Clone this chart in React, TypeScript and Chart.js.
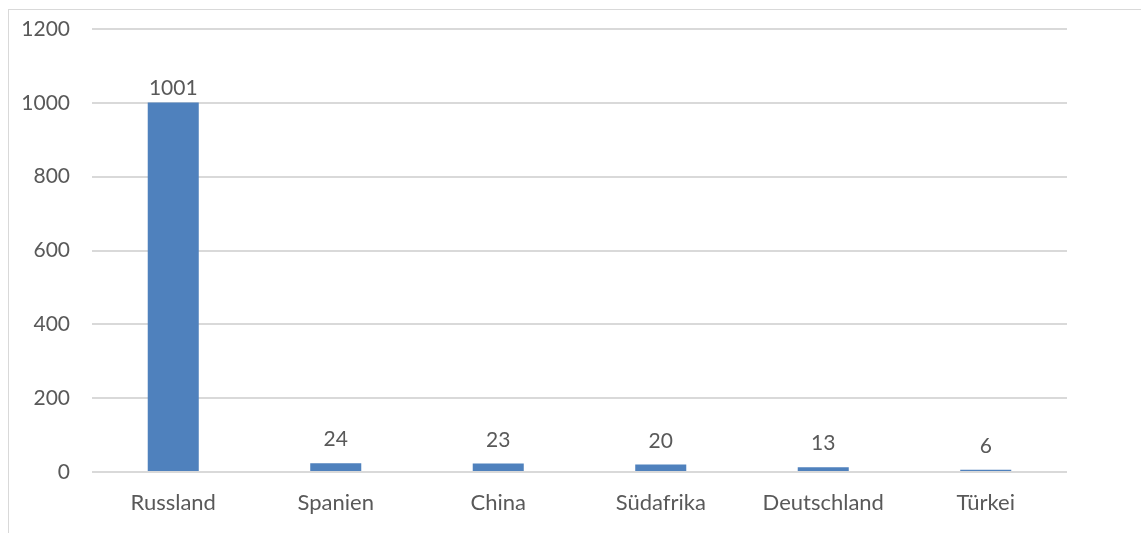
import React, { useEffect, useRef } from "react";
import { Chart, registerables } from "chart.js";

Chart.register(...registerables);

const categories = ["Russland", "Spanien", "China", "Südafrika", "Deutschland", "Türkei"];
const values = [1001, 24, 23, 20, 13, 6];
const yMax = 1200;
const yStep = 200;

const FONT = "Lato, 'Open Sans', sans-serif";
const TEXT = "#595959";

const labelPlugin = {
  id: "valueLabels",
  afterDatasetsDraw(chart: any) {
    const ctx = chart.ctx;
    const meta = chart.getDatasetMeta(0);
    const zeroY = chart.scales.y.getPixelForValue(0);
    ctx.save();
    ctx.font = `21px ${FONT}`;
    ctx.fillStyle = TEXT;
    ctx.textAlign = "center";
    ctx.textBaseline = "alphabetic";
    meta.data.forEach((bar: any, i: number) => {
      const tall = zeroY - bar.y > 100;
      const gap = tall ? 7 : 17;
      ctx.fillText(String(values[i]), bar.x, bar.y - gap);
    });
    ctx.restore();
  },
};

export default function App() {
  const ref = useRef<HTMLCanvasElement | null>(null);
  useEffect(() => {
    if (!ref.current) return;
    const chart = new Chart(ref.current, {
      type: "bar",
      data: {
        labels: categories,
        datasets: [
          {
            data: values,
            backgroundColor: "#4f81bd",
            borderWidth: 0,
            barPercentage: 0.314,
            categoryPercentage: 1,
          },
        ],
      },
      options: {
        animation: false,
        responsive: false,
        maintainAspectRatio: false,
        devicePixelRatio: 1,
        layout: { padding: { left: 0, right: 74, top: 29, bottom: 0 } },
        plugins: { legend: { display: false }, tooltip: { enabled: false } },
        scales: {
          x: {
            grid: { display: false, drawTicks: false },
            border: { display: false },
            ticks: { color: TEXT, font: { family: FONT, size: 22 }, padding: 18, maxRotation: 0 },
            afterFit: (s: any) => {
              s.height = 61;
              s.paddingLeft = 0;
              s.paddingRight = 0;
            },
          },
          y: {
            min: 0,
            max: yMax,
            ticks: {
              stepSize: yStep,
              color: TEXT,
              font: { family: FONT, size: 21 },
              padding: 22,
              callback: (v: any) => String(v),
            },
            grid: { color: "#d9d9d9", lineWidth: 2, drawTicks: false },
            border: { display: false },
            afterFit: (s: any) => {
              s.width = 92;
              s.paddingTop = 0;
              s.paddingBottom = 0;
            },
          },
        },
      },
      plugins: [labelPlugin],
    });
    return () => chart.destroy();
  }, []);
  return (
    <div style={{ position: "fixed", left: 0, top: 0, width: 1141, height: 533, overflow: "hidden", background: "#fff" }}>
      <div
        style={{
          position: "absolute",
          left: 8,
          top: 9,
          width: 1200,
          height: 600,
          border: "1px solid #d9d9d9",
          boxSizing: "border-box",
        }}
      />
      <canvas ref={ref} width={1141} height={533} style={{ position: "absolute", left: 0, top: 0, width: 1141, height: 533 }} />
    </div>
  );
}
